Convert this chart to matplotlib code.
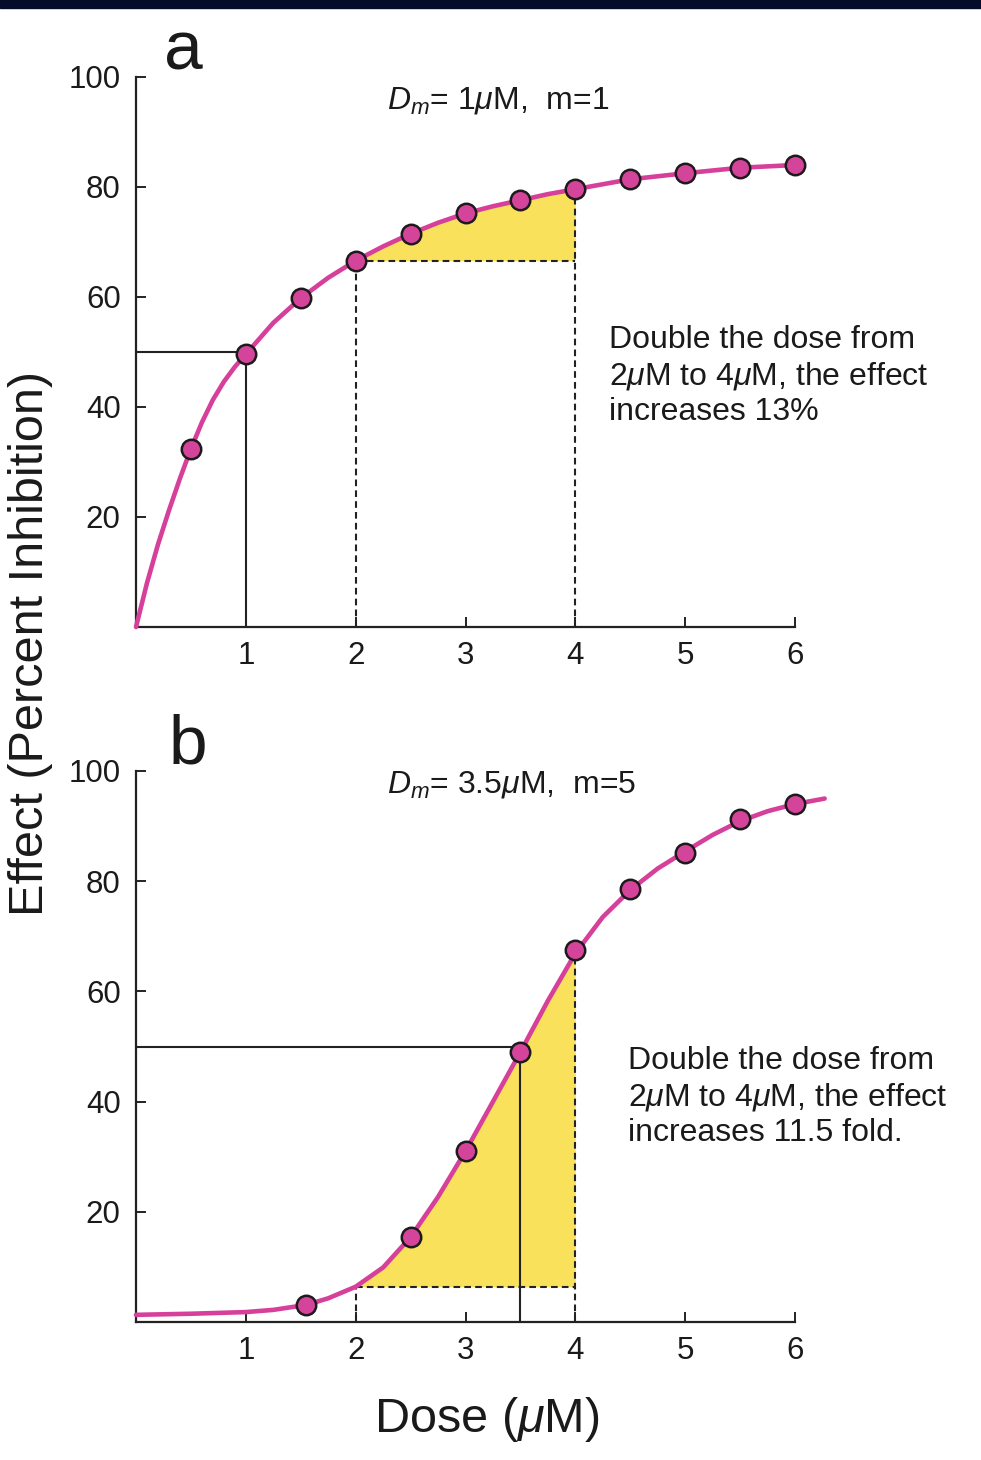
import matplotlib
matplotlib.use("Agg")
import matplotlib.pyplot as plt
from matplotlib.patches import Rectangle

plt.rcParams["font.family"] = ["Liberation Sans", "DejaVu Sans"]
plt.rcParams["mathtext.fontset"] = "custom"
plt.rcParams["mathtext.rm"] = "Liberation Sans"
plt.rcParams["mathtext.it"] = "Liberation Sans:italic"
plt.rcParams["mathtext.bf"] = "Liberation Sans:bold"

# ---------------- data ----------------
# Panel a: Dm = 1 uM, m = 1
dose_a = [0.5, 1, 1.5, 2, 2.5, 3, 3.5, 4, 4.5, 5, 5.5, 6]
effect_a = [32.4, 49.6, 59.8, 66.6, 71.5, 75.2, 77.6, 79.6, 81.4, 82.5, 83.5, 84.0]
curve_x_a = [0, 0.1, 0.2, 0.3, 0.4, 0.5, 0.6, 0.7, 0.8, 0.9, 1, 1.25, 1.5, 1.75,
             2, 2.25, 2.5, 2.75, 3, 3.25, 3.5, 3.75, 4, 4.5, 5, 5.5, 6, 6.08]
curve_y_a = [0, 8.0, 15.0, 21.2, 27.0, 32.4, 37.2, 41.3, 44.6, 47.3, 49.6, 55.3, 59.8, 63.5,
             66.6, 69.2, 71.5, 73.5, 75.2, 76.5, 77.6, 78.7, 79.6, 81.4, 82.5, 83.5, 84.0, 84.2]
half_a = (1, 50)
span_a = (2, 4)
low_a, high_a = 66.6, 79.6
label_a = r"$D_m$= 1$\mu$M,  m=1"
note_a = "Double the dose from\n2$\\mu$M to 4$\\mu$M, the effect\nincreases 13%"

# Panel b: Dm = 3.5 uM, m = 5
dose_b = [1.55, 2.5, 3, 3.5, 4, 4.5, 5, 5.5, 6]
effect_b = [3.1, 15.4, 31.0, 49.0, 67.6, 78.5, 85.2, 91.2, 94.0]
curve_x_b = [0, 0.5, 1, 1.25, 1.55, 1.75, 2, 2.25, 2.5, 2.75, 3, 3.25, 3.5, 3.75,
             4, 4.25, 4.5, 4.75, 5, 5.25, 5.5, 5.75, 6, 6.27]
curve_y_b = [1.3, 1.5, 1.8, 2.2, 3.1, 4.3, 6.4, 9.9, 15.4, 22.7, 31.0, 40.0, 49.0, 58.3,
             66.9, 73.5, 78.4, 82.3, 85.4, 88.4, 90.9, 92.7, 94.0, 95.0]
half_b = (3.5, 50)
span_b = (2, 4)
low_b, high_b = 6.4, 67.6
label_b = r"$D_m$= 3.5$\mu$M,  m=5"
note_b = "Double the dose from\n2$\\mu$M to 4$\\mu$M, the effect\nincreases 11.5 fold."

x_ticks = [1, 2, 3, 4, 5, 6]
y_ticks = [20, 40, 60, 80, 100]

# ---------------- style ----------------
W, H = 981, 1460
CURVE = "#d6409a"
FACE = "#d4449b"
EDGE = "#1e1a1c"
YELLOW = "#f9e15c"
INK = "#222222"
TXT = "#1a1a1a"

fig = plt.figure(figsize=(W / 100, H / 100), dpi=100)
fig.patches.append(Rectangle((0, 1 - 8 / H), 1, 8 / H, transform=fig.transFigure,
                             color="#050b2a", zorder=10))


def fx(x):
    return x / W


def fy(y):
    return 1 - y / H


left_px, right_px = 136, 795


def make_axes(top_px, bottom_px):
    return fig.add_axes([fx(left_px), fy(bottom_px), (right_px - left_px) / W,
                         (bottom_px - top_px) / H])


def draw_panel(ax, dose, eff, cx, cy, half, span, low, high):
    ax.set_xlim(0, 6)
    ax.set_ylim(0, 100)
    # yellow area
    sx = [x for x in cx if span[0] <= x <= span[1]]
    sy = [y for x, y in zip(cx, cy) if span[0] <= x <= span[1]]
    ax.fill_between(sx, low, sy, color=YELLOW, lw=0, zorder=1)
    # solid guides for the median effect
    ax.plot([0, half[0]], [half[1], half[1]], color=INK, lw=1.5, zorder=2)
    ax.plot([half[0], half[0]], [0, half[1]], color=INK, lw=1.5, zorder=2)
    # dashed guides for the dose doubling
    dash = (0, (3.2, 2.0))
    ax.plot([span[0], span[0]], [0, low], color=INK, lw=1.5, ls=dash, zorder=2)
    ax.plot([span[0], span[1]], [low, low], color=INK, lw=1.5, ls=dash, zorder=2)
    ax.plot([span[1], span[1]], [0, high], color=INK, lw=1.5, ls=dash, zorder=2)
    # curve and points
    ax.plot(cx, cy, color=CURVE, lw=3.3, solid_capstyle="round", solid_joinstyle="round",
            zorder=3, clip_on=False)
    ax.plot(dose, eff, ls="none", marker="o", ms=14, mfc=FACE, mec=EDGE, mew=1.8,
            zorder=4, clip_on=False)
    # axes
    for s in ("top", "right"):
        ax.spines[s].set_visible(False)
    for s in ("left", "bottom"):
        ax.spines[s].set_linewidth(1.6)
        ax.spines[s].set_color(INK)
    ax.set_xticks(x_ticks)
    ax.set_yticks(y_ticks)
    ax.tick_params(axis="both", direction="in", length=7.5, width=1.4, color=INK,
                   labelsize=22.5, labelcolor=TXT)
    ax.tick_params(axis="x", pad=10)
    ax.tick_params(axis="y", pad=11)


ax_a = make_axes(627 - 550, 627)
draw_panel(ax_a, dose_a, effect_a, curve_x_a, curve_y_a, half_a, span_a, low_a, high_a)
ax_b = make_axes(1322 - 551, 1322)
draw_panel(ax_b, dose_b, effect_b, curve_x_b, curve_y_b, half_b, span_b, low_b, high_b)

# panel letters
fig.text(fx(183), fy(70), "a", fontsize=50, ha="center", va="baseline", color=TXT)
fig.text(fx(188), fy(763), "b", fontsize=50, ha="center", va="baseline", color=TXT)

# parameter labels
fig.text(fx(498), fy(100), label_a, fontsize=23, ha="center", va="center", color=TXT)
fig.text(fx(512), fy(784), label_b, fontsize=23, ha="center", va="center", color=TXT)

# notes
fig.text(fx(609), fy(376), note_a, fontsize=23, ha="left", va="center",
         linespacing=1.22, color=TXT)
fig.text(fx(628), fy(1097), note_b, fontsize=23, ha="left", va="center",
         linespacing=1.22, color=TXT)

# axis titles
fig.text(fx(31), fy(643), "Effect (Percent Inhibition)", fontsize=35, rotation=90,
         ha="center", va="center", color=TXT)
fig.text(fx(487), fy(1420), "Dose ($\\mu$M)", fontsize=35, ha="center", va="center",
         color=TXT)

fig.savefig("out.png", dpi=100, facecolor="white")
